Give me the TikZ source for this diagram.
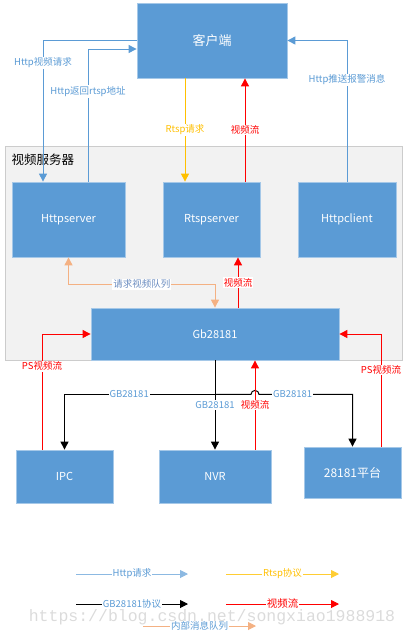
\documentclass[tikz,border=0pt]{standalone}
\usepackage{fontspec}
\setmainfont{Noto Sans CJK SC}
\newfontfamily\wmfont{Liberation Mono}
\usepackage{xcolor}
\usetikzlibrary{arrows.meta, positioning, calc}

\definecolor{boxblue}{HTML}{5B9BD5}
\definecolor{httpblue}{HTML}{5B9BD5}
\definecolor{rtspyellow}{HTML}{FFC000}
\definecolor{streamred}{HTML}{FF0000}
\definecolor{queuepeach}{HTML}{F4B183}
\definecolor{queuetext}{HTML}{6A8CC0}
\definecolor{framegray}{HTML}{F2F2F2}

\begin{document}
\begin{tikzpicture}[
    x=1pt, y=-1pt,
    box/.style={draw=boxblue!55!white, fill=boxblue, text=white, line width=0.8pt, font=\fontsize{11}{13}\selectfont},
    lbl/.style={fill=white, inner sep=1pt, font=\fontsize{9.5}{11}\selectfont},
    httparr/.style={-{Triangle[length=8pt, width=8pt]}, draw=httpblue, line width=1pt},
    rtsparr/.style={-{Triangle[length=8pt, width=8pt]}, draw=rtspyellow, line width=1pt},
    videoarr/.style={-{Triangle[length=8pt, width=8pt]}, draw=streamred, line width=1pt},
    gbarr/.style={-{Triangle[length=8pt, width=8pt]}, draw=black, line width=1pt},
    queuearr/.style={{Triangle[length=8pt, width=8pt]}-{Triangle[length=8pt, width=8pt]}, draw=queuepeach, line width=1pt}
]
\useasboundingbox (0,0) rectangle (408,638);

% Client
\node[box, minimum width=150pt, minimum height=75pt, font=\fontsize{13}{15}\selectfont] (client) at (212,40.5) {客户端};

% Video server frame
\node[draw=gray!40, fill=framegray, line width=1pt, minimum width=397pt, minimum height=214pt] (server) at (203.5,253) {};
\node[anchor=west, font=\fontsize{12.5}{14}\selectfont] (serverlbl) at (8,160) {视频服务器};

\node[box, minimum width=113pt, minimum height=75pt] (httpserver) at (68.5,219.5) {Httpserver};
\node[box, minimum width=97pt, minimum height=75pt] (rtspserver) at (211.5,219.5) {Rtspserver};
\node[box, minimum width=98pt, minimum height=75pt] (httpclient) at (347,219.5) {Httpclient};
\node[box, minimum width=248pt, minimum height=52pt] (gb) at (215,334) {Gb28181};

% Devices
\node[box, minimum width=97pt, minimum height=53pt] (ipc) at (64.5,476.5) {IPC};
\node[box, minimum width=112pt, minimum height=53pt] (nvr) at (215,476.5) {NVR};
\node[box, minimum width=97pt, minimum height=51pt, font=\fontsize{12}{14}\selectfont] (plat) at (352.5,472.5) {28181平台};

% Port coordinates
\coordinate (hsin) at ([xshift=-25.5pt]httpserver.north);
\coordinate (hsout) at ([xshift=19.5pt]httpserver.north);
\coordinate (clientin) at ([yshift=-8.5pt]client.west);
\coordinate (csout) at ([xshift=-27pt]client.south);
\coordinate (rsout) at ([xshift=33.5pt]rtspserver.north);
\coordinate (gbout) at ([xshift=23pt]gb.north);
\coordinate (ipcout) at ([xshift=-22.5pt]ipc.north);
\coordinate (platout) at ([xshift=28.5pt]plat.north);
\coordinate (nvrout) at ([xshift=40pt]nvr.north);
\coordinate (split) at ([yshift=-34pt]gb.south);

% Http
\draw[httparr] (client.west) -| node[lbl, text=httpblue, pos=0.58] {Http视频请求} (hsin);
\draw[httparr] (hsout) |- node[lbl, text=httpblue, pos=0.34] {Http返回rtsp地址} (clientin);
\draw[httparr] (httpclient.north) |- node[lbl, text=httpblue, pos=0.36] {Http推送报警消息} (client.east);

% Rtsp and stream to client
\draw[rtsparr] (csout) -- node[lbl, text=rtspyellow] {Rtsp请求} (csout |- rtspserver.north);
\draw[videoarr] (rsout) -- node[lbl, text=streamred] {视频流} (rsout |- client.south);

% Inside server
\draw[queuearr] (httpserver.south) -- ++(0,27) -| node[lbl, text=queuetext, pos=0.25] {请求视频队列} (gb.north);
\draw[videoarr] (gbout) -- node[lbl, text=streamred] {视频流} (gbout |- rtspserver.south);

% PS streams
\draw[videoarr] (ipcout) |- node[lbl, text=streamred, pos=0.36] {PS视频流} (gb.west);
\draw[videoarr] (platout) |- node[lbl, text=streamred, pos=0.34] {PS视频流} (gb.east);

% GB28181 signalling
\draw[gbarr] (gb.south) -- node[lbl, text=httpblue] {GB28181} (nvr.north);
\draw[gbarr] (split) -| node[lbl, text=httpblue, pos=0.285] {GB28181} (ipc.north);
\draw[gbarr] (split) -- ++(36,0) arc[start angle=180, end angle=360, radius=4] -| node[lbl, text=httpblue, pos=0.18] {GB28181} (plat.north);
\draw[videoarr] (nvrout) -- node[lbl, text=streamred] {视频流} (nvrout |- gb.south);

% Legend
\coordinate (leghttp) at (76,574);
\coordinate (legrtsp) at (226,574);
\coordinate (leggb) at (76,604);
\coordinate (legvideo) at (226,604);
\coordinate (legqueue) at (143,626);
\draw[httparr, draw=httpblue!70!white] (leghttp) -- node[lbl, text=httpblue] {Http请求} ++(112,0);
\draw[rtsparr, draw=rtspyellow!80!white] (legrtsp) -- node[lbl, text=rtspyellow] {Rtsp协议} ++(113,0);
\draw[gbarr] (leggb) -- node[lbl, text=httpblue] {GB28181协议} ++(112,0);
\draw[videoarr] (legvideo) -- node[lbl, text=streamred, font=\fontsize{10.5}{12}\selectfont] {视频流} ++(113,0);
\draw[queuearr, -{Triangle[length=8pt, width=8pt]}] (legqueue) -- node[lbl, text=httpblue] {内部消息队列} ++(113,0);

% Watermark
\node[text=gray!35, opacity=0.8, font=\wmfont\fontsize{16.5}{18}\selectfont] (watermark) at (212,617) {https://blog.csdn.net/songxiao1988918};

\end{tikzpicture}
\end{document}
